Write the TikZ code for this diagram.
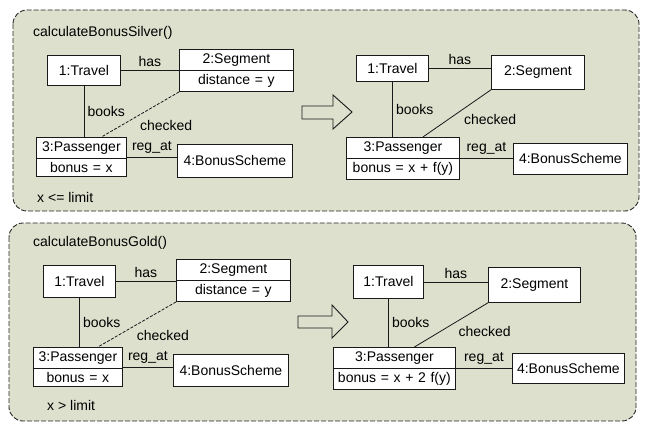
\documentclass[tikz,border=0pt]{standalone}
\usepackage{fontspec}
\setmainfont{Liberation Sans}
\usetikzlibrary{shapes.multipart}
\definecolor{panelgreen}{RGB}{221,224,205}

\begin{document}
\begin{tikzpicture}[x=1pt,y=-1pt,font=\fontsize{14pt}{16pt}\selectfont]
\tikzstyle{panel} = [draw=black!85, fill=panelgreen, dash pattern=on 5pt off 2pt,
line width=0.9pt, rounded corners=14pt]
\tikzstyle{obj} = [rectangle, draw=black!90, fill=white, line width=0.8pt,
anchor=north west, inner sep=3pt]
\tikzstyle{objsplit} = [obj, rectangle split, rectangle split parts=2, align=center,
text height=10pt, text depth=3.5pt, inner ysep=3.5pt]
\tikzstyle{link} = [draw=black!90, line width=0.8pt]
\tikzstyle{note} = [anchor=west, inner sep=0pt]
\tikzstyle{change} = [draw=black!90, line width=0.9pt, line join=miter]

\useasboundingbox (0,0) rectangle (645,428);

% silver
\draw[panel] (13,10) rectangle (639,211);
\node[note] (titleS) at (33,33) {calculateBonusSilver()};
\node[note] (condS) at (37,197) {x <= limit};
% before
\node[obj, minimum width=73pt, minimum height=30pt] (travel1) at (47,55) {1:Travel};
\node[objsplit, text width=108pt] (segment1) at (179,49) {2:Segment \nodepart{two} distance = y};
\node[objsplit, text width=84pt] (passenger1) at (36,137) {3:Passenger \nodepart{two} bonus = x};
\node[obj, minimum width=115pt, minimum height=33pt] (bonus1) at (177,144) {4:BonusScheme};
% after
\node[obj, minimum width=72pt, minimum height=26pt] (travel2) at (356,55) {1:Travel};
\node[obj, minimum width=93pt, minimum height=34pt] (segment2) at (491,55) {2:Segment};
\node[objsplit, text width=107pt] (passenger2) at (346,137) {3:Passenger \nodepart{two} bonus = x + f(y)};
\node[obj, minimum width=114pt, minimum height=31pt] (bonus2) at (513,143) {4:BonusScheme};

\draw[change] (302,106) -- (333,106) -- (333,95) -- (352,112) -- (333,129) -- (333,119) -- (302,119) -- cycle;

\draw[link] (travel1.east) -- node[above] {has} (travel1.east -| segment1.west);
\draw[link] (travel1.south) -- node[right] {books} (travel1.south |- passenger1.north);
\draw[link, dash pattern=on 3pt off 1.5pt] (segment1.south west) -- node[pos=0.55, anchor=north west] {checked} ([xshift=20pt]passenger1.north);
\draw[link] (passenger1.east) -- node[above] {reg\_at} (passenger1.east -| bonus1.west);

\draw[link] (travel2.east) -- node[above] {has} (travel2.east -| segment2.west);
\draw[link] (travel2.south) -- node[right] {books} (travel2.south |- passenger2.north);
\draw[link] (segment2.south west) -- node[pos=0.45, anchor=north west] {checked} ([xshift=20pt]passenger2.north);
\draw[link] (passenger2.east) -- node[above] {reg\_at} (passenger2.east -| bonus2.west);

% gold
\draw[panel] (9,223) rectangle (636,421);
\node[note] (titleG) at (33,243) {calculateBonusGold()};
\node[note] (condG) at (47,405) {x > limit};
% before
\node[obj, minimum width=72pt, minimum height=32pt] (travel3) at (43,265) {1:Travel};
\node[objsplit, text width=108pt] (segment3) at (176,259) {2:Segment \nodepart{two} distance = y};
\node[objsplit, text width=83pt] (passenger3) at (33,347) {3:Passenger \nodepart{two} bonus = x};
\node[obj, minimum width=115pt, minimum height=32pt] (bonus3) at (173,354) {4:BonusScheme};
% after
\node[obj, minimum width=70pt, minimum height=33pt] (travel4) at (353,265) {1:Travel};
\node[obj, minimum width=92pt, minimum height=35pt] (segment4) at (488,267) {2:Segment};
\node[objsplit, text width=116pt] (passenger4) at (333,347) {3:Passenger \nodepart{two} bonus = x + 2 f(y)};
\node[obj, minimum width=112pt, minimum height=30pt] (bonus4) at (512,353) {4:BonusScheme};

\draw[change] (298,316) -- (332,316) -- (332,305) -- (348,322) -- (332,338) -- (332,328) -- (298,328) -- cycle;

\draw[link] (travel3.east) -- node[above] {has} (travel3.east -| segment3.west);
\draw[link] (travel3.south) -- node[right] {books} (travel3.south |- passenger3.north);
\draw[link, dash pattern=on 3pt off 1.5pt] (segment3.south west) -- node[pos=0.55, anchor=north west] {checked} ([xshift=20pt]passenger3.north);
\draw[link] (passenger3.east) -- node[above] {reg\_at} (passenger3.east -| bonus3.west);

\draw[link] (travel4.east) -- node[above] {has} (travel4.east -| segment4.west);
\draw[link] (travel4.south) -- node[right] {books} (travel4.south |- passenger4.north);
\draw[link] (segment4.south west) -- node[pos=0.45, anchor=north west] {checked} ([xshift=20pt]passenger4.north);
\draw[link] (passenger4.east) -- node[above] {reg\_at} (passenger4.east -| bonus4.west);

\end{tikzpicture}
\end{document}
